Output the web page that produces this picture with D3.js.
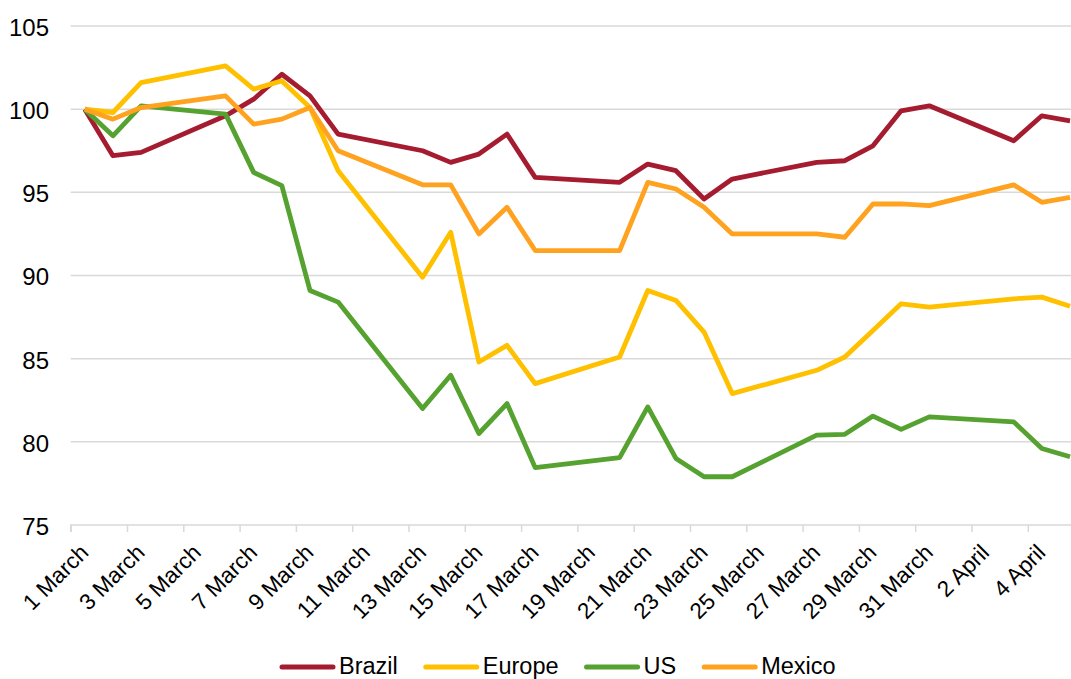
<!DOCTYPE html>
<html>
<head>
<meta charset="utf-8">
<script src="https://cdn.jsdelivr.net/npm/d3@7"></script>
<style>
  html, body { margin: 0; padding: 0; background: #fff; }
  svg { display: block; font-family: "Liberation Sans", Arial, sans-serif; }
</style>
</head>
<body>
<svg id="chart" width="1071" height="679"></svg>
<script>
// Trading dates (weekdays only)
const dates = [
  "2017-03-01","2017-03-02","2017-03-03",
  "2017-03-06","2017-03-07","2017-03-08","2017-03-09","2017-03-10",
  "2017-03-13","2017-03-14","2017-03-15","2017-03-16","2017-03-17",
  "2017-03-20","2017-03-21","2017-03-22","2017-03-23","2017-03-24",
  "2017-03-27","2017-03-28","2017-03-29","2017-03-30","2017-03-31",
  "2017-04-03","2017-04-04","2017-04-05"
];

// Index values (1 March = 100)
const brazil = [100, 97.2, 97.4, 99.6, 100.6, 102.1, 100.8, 98.5,
  97.5, 96.8, 97.3, 98.5, 95.9, 95.6, 96.7, 96.3, 94.6, 95.8,
  96.8, 96.9, 97.8, 99.9, 100.2, 98.1, 99.6, 99.3];
const europe = [100, 99.8, 101.6, 102.6, 101.2, 101.7, 100.1, 96.3,
  89.9, 92.6, 84.8, 85.8, 83.5, 85.1, 89.1, 88.5, 86.6, 82.9,
  84.3, 85.1, 86.7, 88.3, 88.1, 88.6, 88.7, 88.15];
const us = [100, 98.4, 100.2, 99.7, 96.2, 95.4, 89.1, 88.4,
  82.0, 84.0, 80.5, 82.3, 78.45, 79.05, 82.1, 79.0, 77.9, 77.9,
  80.4, 80.45, 81.55, 80.75, 81.5, 81.2, 79.6, 79.1];
const mexico = [100, 99.4, 100.1, 100.8, 99.1, 99.4, 100.1, 97.5,
  95.45, 95.45, 92.5, 94.1, 91.5, 91.5, 95.6, 95.2, 94.1, 92.5,
  92.5, 92.3, 94.3, 94.3, 94.2, 95.45, 94.4, 94.7];

const seriesNames = ["Brazil", "Europe", "US", "Mexico"];
const seriesColors = ["#a51c30", "#ffc000", "#55a230", "#ffa21f"];
const seriesValues = [brazil, europe, us, mexico];

const yTicks = [75, 80, 85, 90, 95, 100, 105];
const tickLabels = ["1 March","3 March","5 March","7 March","9 March","11 March",
  "13 March","15 March","17 March","19 March","21 March","23 March","25 March",
  "27 March","29 March","31 March","2 April","4 April"];

const svg = d3.select("#chart");
const parse = d3.utcParse("%Y-%m-%d");
const start = parse(dates[0]);
const dayIndex = dates.map(s => d3.utcDay.count(start, parse(s)));

// One slot per calendar day; points sit in the middle of their slot
const x = d3.scaleLinear().domain([0, 36]).range([70.7, 70.7 + 36 * 28.15]);
const y = d3.scaleLinear().domain([75, 105]).range([525, 26]);

// Horizontal gridlines
svg.append("g")
  .selectAll("line")
  .data(yTicks.filter(v => v > 75))
  .join("line")
  .attr("x1", x(0)).attr("x2", 1071)
  .attr("y1", d => y(d)).attr("y2", d => y(d))
  .attr("stroke", "#d9d9d9").attr("stroke-width", 1.5);

// Y axis labels
svg.append("g")
  .selectAll("text")
  .data(yTicks)
  .join("text")
  .attr("x", 49)
  .attr("y", d => y(d) + 1.5)
  .attr("dy", "0.35em")
  .attr("text-anchor", "end")
  .attr("font-size", 24)
  .attr("fill", "#000")
  .text(d => d);

// X axis: baseline with a tick every two days
const tickDays = tickLabels.map((_, i) => i * 2);
const xAxis = d3.axisBottom(x)
  .tickValues(tickDays)
  .tickSize(7)
  .tickFormat("");
const gx = svg.append("g")
  .attr("transform", `translate(0,${y(75)})`)
  .call(xAxis);
gx.select(".domain").attr("stroke", "#d9d9d9").attr("stroke-width", 1.5)
  .attr("d", `M${x(0)},7V0H1071`);
gx.selectAll(".tick line").attr("stroke", "#d9d9d9").attr("stroke-width", 1.5);

// Rotated date labels, centred on each labelled day's slot
svg.append("g")
  .selectAll("text")
  .data(tickLabels)
  .join("text")
  .attr("transform", (d, i) => `translate(${x(tickDays[i] + 0.5) + 5},554) rotate(-45)`)
  .attr("text-anchor", "end")
  .attr("font-size", 22.5)
  .attr("fill", "#000")
  .text(d => d);

// Series lines
const line = d3.line()
  .x((d, i) => x(dayIndex[i] + 0.5))
  .y(d => y(d));

svg.append("g")
  .selectAll("path")
  .data(seriesValues)
  .join("path")
  .attr("d", d => line(d))
  .attr("fill", "none")
  .attr("stroke", (d, i) => seriesColors[i])
  .attr("stroke-width", 4.8)
  .attr("stroke-linejoin", "round");

// Legend
const legend = svg.append("g");
let lx = 280;
seriesNames.forEach((name, i) => {
  legend.append("line")
    .attr("x1", lx + 2).attr("x2", lx + 53)
    .attr("y1", 667).attr("y2", 667)
    .attr("stroke", seriesColors[i])
    .attr("stroke-width", 5)
    .attr("stroke-linecap", "round");
  const t = legend.append("text")
    .attr("x", lx + 59)
    .attr("y", 674)
    .attr("font-size", 23.5)
    .attr("fill", "#000")
    .text(name);
  lx += 59 + t.node().getComputedTextLength() + 26;
});
</script>
</body>
</html>
